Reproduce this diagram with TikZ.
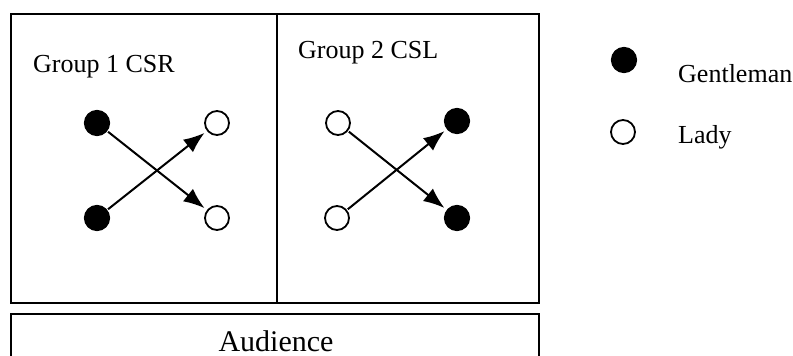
\documentclass[tikz,border=0pt]{standalone}
\usepackage{fontspec}
\setmainfont{Liberation Serif}
\usetikzlibrary{arrows.meta}
\begin{document}
\begin{tikzpicture}[x=1pt,y=-1pt,
  gent/.style={circle,fill=black,draw=black,line width=1.2pt,minimum size=25pt,inner sep=0pt},
  lady/.style={circle,fill=white,draw=black,line width=1.8pt,minimum size=24pt,inner sep=0pt},
  lbl/.style={anchor=base west,inner sep=0pt,font=\fontsize{26}{30}\selectfont},
  mv/.style={line width=2pt,-{Latex[length=21pt,width=16pt]},shorten <=1pt,shorten >=3pt},
  frame/.style={draw=black,line width=1.6pt}]
\clip (0,0) rectangle (793,356);
\useasboundingbox (0,0) rectangle (793,356);
% boxes
\node[frame,rectangle,minimum width=266pt,minimum height=289pt,inner sep=0pt,anchor=north west] (g1box) at (10,13) {};
\node[frame,rectangle,minimum width=262pt,minimum height=289pt,inner sep=0pt,anchor=north west] (g2box) at (276,13) {};
\node[frame,rectangle,minimum width=528pt,minimum height=60pt,inner sep=0pt,anchor=north west] (audbox) at (10,313) {};
% labels
\node[lbl] (t1) at (33,72) {Group 1 CSR};
\node[lbl] (t2) at (298,58) {Group 2 CSL};
\node[anchor=base,inner sep=0pt,font=\fontsize{30}{34}\selectfont] (aud) at (276,351) {Audience};
% group 1
\node[gent] (a1) at (97,123) {};
\node[gent] (a2) at (97,218) {};
\node[lady] (b1) at (217,123) {};
\node[lady] (b2) at (217,218) {};
\draw[mv] (a1) -- (b2);
\draw[mv] (a2) -- (b1);
% group 2
\node[lady] (c1) at (338,123) {};
\node[lady] (c2) at (337,218) {};
\node[gent] (d1) at (457,121) {};
\node[gent] (d2) at (457,218) {};
\draw[mv] (c1) -- (d2);
\draw[mv] (c2) -- (d1);
% legend
\node[gent] (lg) at (624,60) {};
\node[lady] (ll) at (623,132) {};
\node[lbl] (lgt) at (678,82) {Gentleman};
\node[lbl] (llt) at (678,143) {Lady};
\end{tikzpicture}
\end{document}
